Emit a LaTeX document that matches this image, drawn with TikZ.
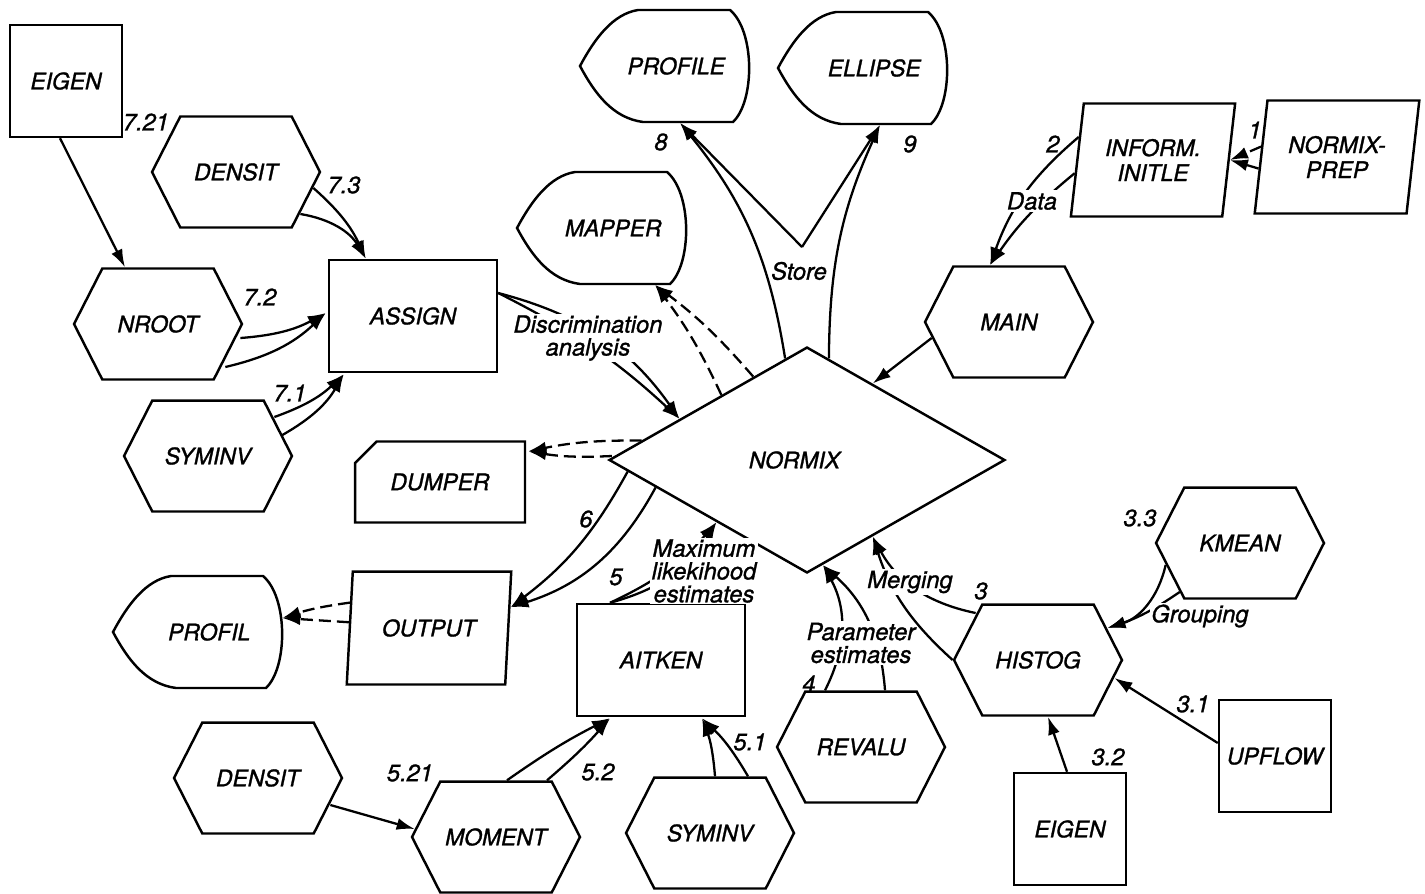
\documentclass[tikz,border=0pt]{standalone}
\usepackage{fontspec}
\setmainfont{TeX Gyre Heros}[ItalicFeatures={FakeBold=1.2}]
\usetikzlibrary{shapes.geometric,shapes.symbols,shapes.misc,arrows.meta,calc}
\tikzstyle{node_hex} = [signal, signal to=east and west, signal pointer angle=126, draw, line width=1.4pt, inner sep=0pt, minimum width=3.36cm, minimum height=2.22cm]
\tikzstyle{node_box} = [rectangle, draw, line width=1.4pt, inner sep=0pt, minimum width=2.24cm, minimum height=2.24cm]
\tikzstyle{node_rect} = [node_box, minimum width=3.36cm]
\tikzstyle{node_para} = [trapezium, trapezium left angle=78, trapezium right angle=102, trapezium stretches=true, draw, line width=1.4pt, inner sep=0pt, minimum width=3.3cm, minimum height=2.26cm, align=center, font=\fontsize{13}{14.2}\selectfont\itshape]
\tikzstyle{node_card} = [chamfered rectangle, chamfered rectangle corners=north west, chamfered rectangle xsep=0.2cm, chamfered rectangle ysep=0.26cm, draw, line width=1.4pt, inner sep=0pt, minimum width=3.4cm, minimum height=1.62cm]
\tikzstyle{node_disp} = [rectangle, inner sep=0pt, minimum width=3.4cm, minimum height=2.26cm, execute at begin node=\hspace*{0.45cm}]
\tikzstyle{node_main} = [diamond, draw, line width=1.4pt, inner sep=0pt, minimum width=7.92cm, minimum height=4.52cm, execute at end node=\hspace*{0.5cm}]
\tikzstyle{node_label} = [inner sep=1pt, align=center, font=\fontsize{13.5}{13}\selectfont\itshape]
\tikzstyle{node_gap} = [node_label, fill=white]
\tikzstyle{edge_normal} = [line width=1.3pt]
\tikzstyle{edge_arrow} = [edge_normal, -{Latex[length=0.36cm,width=0.24cm]}]
\tikzstyle{edge_dashed} = [edge_arrow, dash pattern=on 0.24cm off 0.12cm]
\begin{document}
\begin{tikzpicture}[x=0.02cm, y=-0.02cm, every node/.style={font=\fontsize{13}{11.5}\selectfont\itshape}]
\useasboundingbox (0,0) rectangle (1425,893);
\node (eigenA) at (66,81) [node_box] {EIGEN};
\node (densitA) at (236,172) [node_hex] {DENSIT};
\node (nroot) at (158,324) [node_hex] {NROOT};
\node (syminvA) at (208,456) [node_hex] {SYMINV};
\node (assign) at (413,316) [node_rect] {ASSIGN};
\node (mapper) at (602,228) [node_disp] {MAPPER};
\node (profile) at (665,66) [node_disp] {PROFILE};
\node (ellipse) at (863,68) [node_disp] {ELLIPSE};
\node (normix) at (807,460) [node_main] {NORMIX};
\node (main) at (1009,322) [node_hex] {MAIN};
\node (inform) at (1153,160) [node_para] {INFORM.\\INITLE};
\node (prep) at (1337,157) [node_para] {NORMIX-\\PREP};
\node (dumper) at (440,482) [node_card] {DUMPER};
\node (output) at (429,628) [node_para] {OUTPUT};
\node (profil) at (198,632) [node_disp] {PROFIL};
\node (aitken) at (661,660) [node_rect] {AITKEN};
\node (densitB) at (258,778) [node_hex] {DENSIT};
\node (moment) at (496,837) [node_hex] {MOMENT};
\node (syminvB) at (710,833) [node_hex] {SYMINV};
\node (revalu) at (861,747) [node_hex] {REVALU};
\node (histog) at (1038,660) [node_hex] {HISTOG};
\node (kmean) at (1240,543) [node_hex] {KMEAN};
\node (upflow) at (1275,756) [node_box] {UPFLOW};
\node (eigenB) at (1070,829) [node_box] {EIGEN};
\foreach \n in {profile,ellipse,mapper,profil}
  \draw[line width=1.4pt, shift={(\n.center)}] (-85,0) .. controls (-70,-28) and (-52,-52) .. (-27,-56) -- (65,-56) .. controls (90,-35) and (90,35) .. (68,56) -- (-22,56) .. controls (-52,52) and (-70,28) .. cycle;
\coordinate (store) at (802,247);
% left group
\draw[edge_arrow] ($(eigenA.south)+(-6,0)$) -- ($(nroot.north)+(-33,0)$);
\draw[edge_arrow] ($(densitA.east)+(-8,16)$) to[bend left=12] ($(assign.north west)+(38,0)$);
\draw[edge_arrow] ($(densitA.east)+(-21,42)$) to[bend left=25] ($(assign.north west)+(38,0)$);
\draw[edge_arrow] ($(nroot.east)+(-3,14)$) to[bend right=12] ($(assign.west)+(-2,-3)$);
\draw[edge_arrow] ($(nroot.east)+(-18,43)$) to[bend right=15] ($(assign.west)+(-2,-3)$);
\draw[edge_arrow] ($(syminvA.east)+(-19,-39)$) to[bend right=12] ($(assign.south west)+(16,1)$);
\draw[edge_arrow] ($(syminvA.east)+(-11,-21)$) to[bend right=15] ($(assign.south west)+(16,1)$);
\draw[edge_arrow] ($(assign.east)+(0,-23)$) to[bend left=8] ($(normix.west)!0.36!(normix.north)$);
\draw[edge_arrow] ($(assign.east)+(0,-23)$) to[bend left=20] ($(normix.west)!0.36!(normix.north)$);
\node (discr) at (588,338) [node_gap] {Discrimination\\analysis};
% outputs of normix
\draw[edge_dashed] ($(normix.west)!0.57!(normix.north)$) to[bend right=6] ($(mapper.south)+(53,0)$);
\draw[edge_dashed] ($(normix.west)!0.73!(normix.north)$) to[bend right=6] ($(mapper.south)+(53,0)$);
\draw[edge_arrow] ($(normix.west)!0.89!(normix.north)$) to[bend right=15] ($(profile.south)+(15,0)$);
\draw[edge_arrow] (store) -- ($(profile.south)+(15,0)$);
\draw[edge_arrow] ($(normix.north)!0.11!(normix.east)$) to[bend left=12] ($(ellipse.south)+(17,0)$);
\draw[edge_arrow] (store) -- ($(ellipse.south)+(17,0)$);
\draw[edge_dashed] ($(normix.west)!0.17!(normix.north)$) to[bend right=6] ($(dumper.north east)+(2,11)$);
\draw[edge_dashed] ($(normix.west)+(4,-4)$) to[bend left=6] ($(dumper.north east)+(2,11)$);
\draw[edge_arrow] ($(normix.west)!0.10!(normix.south)$) to[bend left=12] ($(output.bottom right corner)!0.68!(output.top right corner)$);
\draw[edge_arrow] ($(normix.west)!0.24!(normix.south)$) to[bend left=22] ($(output.bottom right corner)!0.68!(output.top right corner)$);
\draw[edge_dashed] ($(output.bottom left corner)!0.72!(output.top left corner)$) to[bend right=5] ($(profil.east)+(-1,-14)$);
\draw[edge_dashed] ($(output.bottom left corner)!0.55!(output.top left corner)$) -- ($(profil.east)+(-1,-14)$);
% top right
\draw[edge_arrow] ($(main.west)+(8,16)$) -- ($(normix.north)!0.33!(normix.east)$);
\draw[edge_arrow] ($(inform.bottom left corner)!0.70!(inform.top left corner)$) to[bend right=15] ($(main.north)+(-19,0)$);
\draw[edge_arrow] ($(inform.bottom left corner)!0.385!(inform.top left corner)$) to[bend right=8] ($(main.north)+(-19,0)$);
\node (data) at (1032,201) [node_gap] {Data};
\draw[edge_dashed] ($(prep.bottom left corner)!0.59!(prep.top left corner)$) -- ($(inform.bottom right corner)!0.5!(inform.top right corner)$);
\draw[edge_dashed] ($(prep.bottom left corner)!0.40!(prep.top left corner)$) -- ($(inform.bottom right corner)!0.5!(inform.top right corner)$);
% inputs from below
\draw[edge_arrow] ($(aitken.north)+(-51,0)$) to[bend right=12] ($(normix.west)!0.545!(normix.south)$);
\draw[edge_arrow] ($(aitken.north)+(-51,0)$) to[bend right=22] ($(normix.west)!0.545!(normix.south)$);
\node (maxlik) at (704,571) [node_gap] {Maximum\\likekihood\\estimates};
\draw[edge_arrow] ($(revalu.north)+(-36,0)$) to[bend right=28] ($(normix.south)!0.08!(normix.east)$);
\draw[edge_arrow] ($(revalu.north)+(24,0)$) to[bend right=22] ($(normix.south)!0.08!(normix.east)$);
\node (param) at (861,643) [node_gap] {Parameter\\estimates};
\draw[edge_arrow] ($(histog.west)+(23,-47)$) to[bend left=25] ($(normix.south)!0.33!(normix.east)$);
\draw[edge_arrow] (histog.west) to[bend left=15] ($(normix.south)!0.33!(normix.east)$);
\node (merg) at (910,582) [node_gap] {Merging};
\draw[edge_arrow] ($(kmean.west)+(11,22)$) to[bend left=30] ($(histog.east)+(-16,-32)$);
\draw[edge_arrow] ($(kmean.west)+(25,49)$) to[bend left=8] ($(histog.east)+(-16,-32)$);
\node (group) at (1200,616) [node_gap] {Grouping};
\draw[edge_arrow] ($(upflow.west)+(0,-13)$) -- ($(histog.east)+(-9,18)$);
\draw[edge_arrow] ($(eigenB.north)+(-3,0)$) -- ($(histog.south)+(10,0)$);
\draw[edge_arrow] ($(densitB.east)+(-13,27)$) -- ($(moment.west)+(4,-8)$);
\draw[edge_arrow] ($(moment.north)+(11,0)$) to[bend left=4] ($(aitken.south)+(-51,1)$);
\draw[edge_arrow] ($(moment.north)+(51,0)$) to[bend right=4] ($(aitken.south)+(-51,1)$);
\draw[edge_arrow] ($(syminvB.north)+(5,0)$) to[bend right=8] ($(aitken.south)+(41,1)$);
\draw[edge_arrow] ($(syminvB.north)+(38,0)$) to[bend right=8] ($(aitken.south)+(41,1)$);
% numbers
\node (l721) at (146,122) [node_label] {7.21};
\node (l73) at (344,185) [node_label] {7.3};
\node (l72) at (260,297) [node_label] {7.2};
\node (l71) at (290,393) [node_label] {7.1};
\node (l8) at (661,142) [node_label] {8};
\node (l9) at (910,144) [node_label] {9};
\node (lstore) at (799,271) [node_label] {Store};
\node (l2) at (1053,144) [node_label] {2};
\node (l1) at (1255,130) [node_label] {1};
\node (l6) at (586,519) [node_label] {6};
\node (l5) at (616,577) [node_label] {5};
\node (l3) at (981,591) [node_label] {3};
\node (l4) at (809,684) [node_label] {4};
\node (l33) at (1140,518) [node_label] {3.3};
\node (l31) at (1193,704) [node_label] {3.1};
\node (l32) at (1108,757) [node_label] {3.2};
\node (l521) at (410,773) [node_label] {5.21};
\node (l52) at (598,772) [node_label] {5.2};
\node (l51) at (750,742) [node_label] {5.1};
\end{tikzpicture}
\end{document}
